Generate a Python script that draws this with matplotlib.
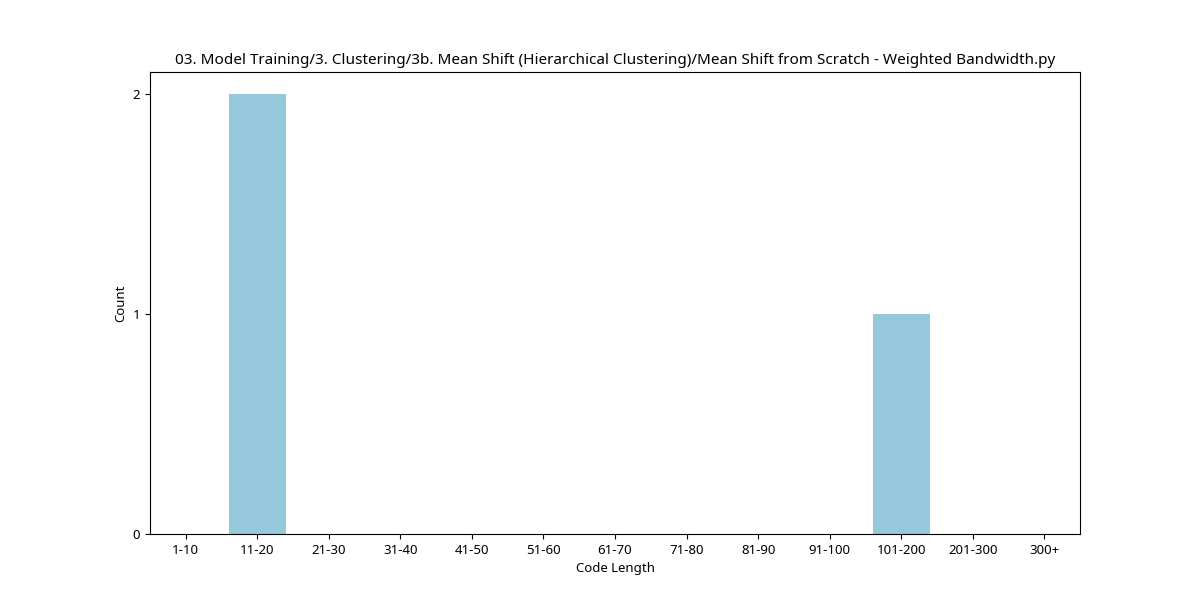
import matplotlib
matplotlib.use("Agg")
import matplotlib.pyplot as plt

plt.rcParams['font.family'] = ['Noto Sans', 'DejaVu Sans']
plt.rcParams['font.size'] = 9.5
categories = ["1-10","11-20","21-30","31-40","41-50","51-60","61-70","71-80","81-90","91-100","101-200","201-300","300+"]
counts = [0,2,0,0,0,0,0,0,0,0,1,0,0]

fig = plt.figure(figsize=(12,6), dpi=100)
ax = fig.add_axes([0.125, 0.11, 0.775, 0.77])
ax.bar(categories, counts, color="#96c8dc", width=0.8)
ax.set_xlim(-0.5, len(categories)-0.5)
ax.set_yticks([0,1,2])
ax.set_ylim(0, 2.1)
ax.set_xlabel("Code Length")
ax.set_ylabel("Count")
ax.set_title("03. Model Training/3. Clustering/3b. Mean Shift (Hierarchical Clustering)/Mean Shift from Scratch - Weighted Bandwidth.py", fontsize=11)
fig.savefig("out.png")
